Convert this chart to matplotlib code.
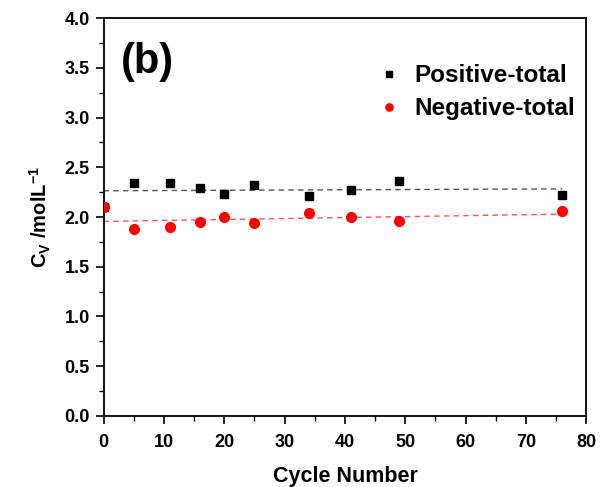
import numpy as np
import matplotlib
matplotlib.use("Agg")
import matplotlib.pyplot as plt

cycles = [0, 5, 11, 16, 20, 25, 34, 41, 49, 76]
positive_total = [2.10, 2.345, 2.345, 2.29, 2.235, 2.32, 2.21, 2.275, 2.365, 2.225]
negative_total = [2.10, 1.88, 1.895, 1.95, 2.00, 1.943, 2.04, 2.00, 1.96, 2.057]

plt.rcParams['font.family'] = ['Liberation Sans', 'DejaVu Sans']
plt.rcParams['font.weight'] = 'bold'
plt.rcParams['mathtext.fontset'] = 'custom'
plt.rcParams['mathtext.rm'] = 'Liberation Sans:bold'
plt.rcParams['mathtext.it'] = 'Liberation Sans:bold'
plt.rcParams['mathtext.bf'] = 'Liberation Sans:bold'
plt.rcParams['mathtext.default'] = 'rm'

fig = plt.figure(figsize=(6.02, 4.87), dpi=100)
ax = fig.add_axes([0.172, 0.1464, 0.802, 0.816])

x = np.array(cycles, dtype=float)
for y, lc in [(positive_total, '#555555'), (negative_total, '#ff5555')]:
    k, b = np.polyfit(x, np.array(y), 1)
    xs = np.array([0, 76])
    ax.plot(xs, k * xs + b, linestyle=(0, (4, 3)), color=lc, lw=1.0, zorder=1)

ax.plot(cycles, positive_total, 's', color='black', ms=6.2, label='Positive-total', zorder=3)
ax.plot(cycles, negative_total, 'o', color='red', ms=7, label='Negative-total', zorder=4)

ax.set_xlim(0, 80)
ax.set_ylim(0, 4.0)
ax.set_xticks(np.arange(0, 81, 10))
ax.set_xticks(np.arange(0, 81, 5), minor=True)
ax.set_yticks(np.arange(0, 4.01, 0.5))
ax.set_yticks(np.arange(0, 4.01, 0.25), minor=True)
ax.set_yticklabels([f"{v:.1f}" for v in np.arange(0, 4.01, 0.5)])
ax.tick_params(which='major', direction='out', length=6, width=1.2, labelsize=13, pad=4)
ax.tick_params(axis='x', which='major', pad=7)
ax.tick_params(which='minor', direction='out', length=3.5, width=1.0)
for s in ax.spines.values():
    s.set_linewidth(1.3)

ax.set_xlabel('Cycle Number', fontsize=15.5, fontweight='bold', labelpad=11)
ax.set_ylabel(r'C$_{V}$ /molL$^{-1}$', fontsize=14.5, fontweight='bold', labelpad=8)

ax.text(0.035, 0.89, '(b)', transform=ax.transAxes, fontsize=30, fontweight='bold', va='center')

leg = ax.legend(loc='upper left', bbox_to_anchor=(0.525, 0.94), frameon=False,
                fontsize=17.5, handlelength=0.8, handletextpad=0.65, labelspacing=0.42,
                markerscale=0.75)
for t in leg.get_texts():
    t.set_fontweight('bold')

fig.savefig('out.png', dpi=100)
